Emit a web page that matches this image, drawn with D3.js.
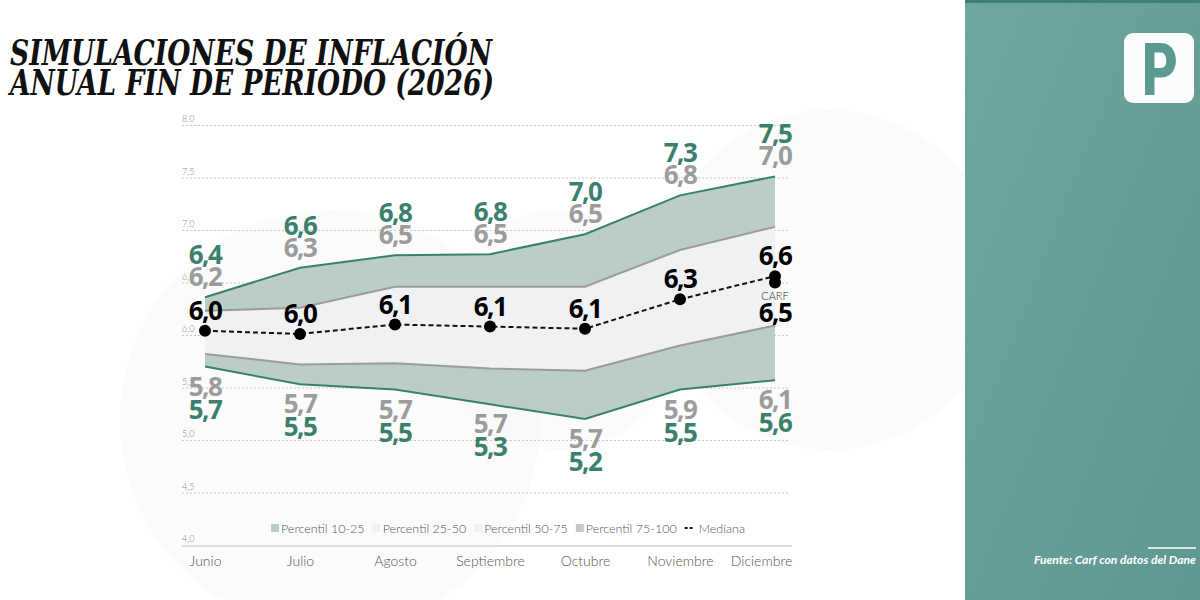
<!DOCTYPE html>
<html>
<head>
<meta charset="utf-8">
<script src="https://cdn.jsdelivr.net/npm/d3@7"></script>
<style>
  body { margin: 0; background: #fff; }
  svg { display: block; }
</style>
</head>
<body>
<svg id="chart" width="1200" height="600"></svg>
<script>
// datos
const meses = ["Junio", "Julio", "Agosto", "Septiembre", "Octubre", "Noviembre", "Diciembre"];
const p90 = [6.36, 6.64, 6.76, 6.77, 6.96, 7.33, 7.51];
const p75 = [6.23, 6.26, 6.46, 6.46, 6.46, 6.81, 7.03];
const mediana = [6.04, 6.01, 6.10, 6.08, 6.06, 6.34, 6.56];
const p25 = [5.82, 5.72, 5.73, 5.68, 5.66, 5.90, 6.09];
const p10 = [5.70, 5.53, 5.48, 5.34, 5.20, 5.48, 5.57];
const carf = { mes: "Diciembre", valor: 6.50 };
const yTicks = [4.0, 4.5, 5.0, 5.5, 6.0, 6.5, 7.0, 7.5, 8.0];
const leyenda = ["Percentil 10-25", "Percentil 25-50", "Percentil 50-75", "Percentil 75-100", "Mediana"];

const verde = "#3b806c", gris = "#9c9c9c";
const bandaVerde = "#bacdc7", bandaClara = "#eff1f3";
const fmt = v => d3.format(".1f")(v).replace(".", ",");

const svg = d3.select("#chart");

// fondo con manchas muy suaves
svg.append("g").selectAll("circle")
    .data([[330, 420, 210], [830, 280, 170], [560, 330, 120]])
    .join("circle")
    .attr("cx", d => d[0]).attr("cy", d => d[1]).attr("r", d => d[2])
    .attr("fill", "#f9f9f9").attr("opacity", 0.6);

// panel derecho
const grad = svg.append("defs").append("linearGradient")
    .attr("id", "panel").attr("x1", 0).attr("y1", 0).attr("x2", 1).attr("y2", 1);
grad.append("stop").attr("offset", "0%").attr("stop-color", "#6fa69f");
grad.append("stop").attr("offset", "100%").attr("stop-color", "#5f9890");

svg.append("rect").attr("x", 965).attr("y", 0).attr("width", 235).attr("height", 600)
    .attr("fill", "url(#panel)");
svg.append("rect").attr("x", 965).attr("y", 0).attr("width", 235).attr("height", 3)
    .attr("fill", "#3e8174");
svg.append("rect").attr("x", 1124).attr("y", 33).attr("width", 70).attr("height", 70)
    .attr("rx", 9).attr("fill", "#fbfcfc");
svg.append("text").attr("x", 1160).attr("y", 95)
    .attr("text-anchor", "middle")
    .attr("font-family", "Roboto").attr("font-weight", 900).attr("font-size", 72)
    .attr("textLength", 36).attr("lengthAdjust", "spacingAndGlyphs")
    .attr("fill", "#5b9a91").text("P");
svg.append("line").attr("x1", 1148).attr("x2", 1196).attr("y1", 548).attr("y2", 548)
    .attr("stroke", "#fff").attr("stroke-width", 1.5);
svg.append("text").attr("x", 1196).attr("y", 564)
    .attr("text-anchor", "end")
    .attr("font-family", "Lato").attr("font-style", "italic").attr("font-weight", 700)
    .attr("font-size", 12).attr("textLength", 162).attr("lengthAdjust", "spacingAndGlyphs")
    .attr("fill", "#fff").text("Fuente: Carf con datos del Dane");

// titulo
const titulo = svg.append("g")
    .attr("font-family", "DejaVu Serif").attr("font-style", "italic").attr("font-weight", 700)
    .attr("font-size", 35).attr("fill", "#111");
titulo.append("text").attr("x", 10).attr("y", 65)
    .attr("textLength", 482).attr("lengthAdjust", "spacingAndGlyphs")
    .text("SIMULACIONES DE INFLACIÓN");
titulo.append("text").attr("x", 10).attr("y", 95)
    .attr("textLength", 484).attr("lengthAdjust", "spacingAndGlyphs")
    .text("ANUAL FIN DE PERIODO (2026)");

// escalas
const x = d3.scalePoint().domain(meses).range([205, 775]);
const y = d3.scaleLinear().domain([4, 8]).range([545, 125]);

// rejilla
const grid = svg.append("g");
grid.selectAll("line")
    .data(yTicks.slice(1))
    .join("line")
    .attr("x1", 182).attr("x2", 790)
    .attr("y1", d => y(d) + 0.5).attr("y2", d => y(d) + 0.5)
    .attr("stroke", "#c8c8c8").attr("stroke-dasharray", "2,2");
grid.selectAll("text")
    .data(yTicks)
    .join("text")
    .attr("x", 182).attr("y", d => y(d) - 3)
    .attr("font-family", "Lato").attr("font-weight", 300).attr("font-size", 9).attr("fill", "#888")
    .text(d => fmt(d));
svg.append("line").attr("x1", 182).attr("x2", 792)
    .attr("y1", y(4) + 1).attr("y2", y(4) + 1)
    .attr("stroke", "#dcdcdc").attr("stroke-width", 2);

// eje x
const xAxis = svg.append("g")
    .attr("transform", `translate(0,${y(4) + 2})`)
    .call(d3.axisBottom(x).tickSize(0).tickPadding(9))
    .call(g => g.select(".domain").remove());
xAxis.selectAll("text")
    .attr("font-family", "Lato").attr("font-weight", 300).attr("font-size", 14).attr("fill", "#555")
    .attr("dx", d => d === "Diciembre" ? -14 : 0);

// bandas
const idx = d3.range(meses.length);
const banda = (lo, hi) => d3.area()
    .x(i => x(meses[i]))
    .y0(i => y(lo[i]))
    .y1(i => y(hi[i]));

const areas = svg.append("g");
areas.append("path").attr("d", banda(p75, p90)(idx)).attr("fill", bandaVerde);
areas.append("path").attr("d", banda(p25, p75)(idx)).attr("fill", bandaClara);
areas.append("path").attr("d", banda(p10, p25)(idx)).attr("fill", bandaVerde);

const linea = serie => d3.line().x(i => x(meses[i])).y(i => y(serie[i]))(idx);
const lineas = svg.append("g").attr("fill", "none").attr("stroke-width", 2);
lineas.append("path").attr("d", linea(p75)).attr("stroke", gris);
lineas.append("path").attr("d", linea(p25)).attr("stroke", gris);
lineas.append("path").attr("d", linea(p90)).attr("stroke", verde);
lineas.append("path").attr("d", linea(p10)).attr("stroke", verde);

// mediana
svg.append("path").attr("d", linea(mediana))
    .attr("fill", "none").attr("stroke", "#111").attr("stroke-width", 2)
    .attr("stroke-dasharray", "5,3");
svg.append("g").selectAll("circle")
    .data(idx)
    .join("circle")
    .attr("cx", i => x(meses[i])).attr("cy", i => y(mediana[i])).attr("r", 6)
    .attr("fill", "#000");
svg.append("circle").attr("cx", x(carf.mes)).attr("cy", y(carf.valor)).attr("r", 6)
    .attr("fill", "#000");

// etiquetas
const etiquetas = svg.append("g")
    .attr("font-family", "Open Sans").attr("font-weight", 700).attr("font-size", 26)
    .attr("text-anchor", "middle").attr("letter-spacing", -1.5);

const rotular = (serie, base, dy, color) => etiquetas.append("g")
    .selectAll("text")
    .data(idx)
    .join("text")
    .attr("x", i => x(meses[i]))
    .attr("y", i => y(base[i]) + dy)
    .attr("fill", color)
    .text(i => fmt(serie[i]));

rotular(p90, p90, -33, verde);
rotular(p75, p90, -11, gris);
rotular(p25, p10, 29, gris);
rotular(p10, p10, 52, verde);
rotular(mediana, mediana, -11, "#000");

etiquetas.append("text")
    .attr("x", x(carf.mes)).attr("y", y(carf.valor) + 39)
    .attr("fill", "#000").text(fmt(carf.valor));
svg.append("text")
    .attr("x", x(carf.mes)).attr("y", y(carf.valor) + 17)
    .attr("text-anchor", "middle")
    .attr("font-family", "Lato").attr("font-weight", 300).attr("font-size", 11).attr("fill", "#333")
    .text("CARF");

// leyenda (en fila, centrada)
const colLeyenda = [bandaVerde, bandaClara, bandaClara, "#c9c9c9"];
const ley = svg.append("g")
    .attr("font-family", "Lato").attr("font-weight", 300).attr("font-size", 12.5).attr("fill", "#555");
const item = ley.selectAll("g")
    .data(leyenda)
    .join("g");
item.filter((d, i) => i < 4).append("rect")
    .attr("x", 0).attr("y", -4).attr("width", 8).attr("height", 8)
    .attr("fill", (d, i) => colLeyenda[i]);
item.filter((d, i) => i === 4).append("line")
    .attr("x1", 0).attr("x2", 10).attr("y1", 0).attr("y2", 0)
    .attr("stroke", "#111").attr("stroke-width", 2).attr("stroke-dasharray", "3,2");
item.append("text")
    .attr("x", (d, i) => i === 4 ? 14 : 10).attr("y", 4.5)
    .text(d => d);

let pos = 0;
const anchos = [];
item.each(function () {
    anchos.push(pos);
    pos += this.getBBox().width + 8;
});
const inicio = 508 - (pos - 8) / 2;
item.attr("transform", (d, i) => `translate(${inicio + anchos[i]},528)`);
</script>
</body>
</html>
